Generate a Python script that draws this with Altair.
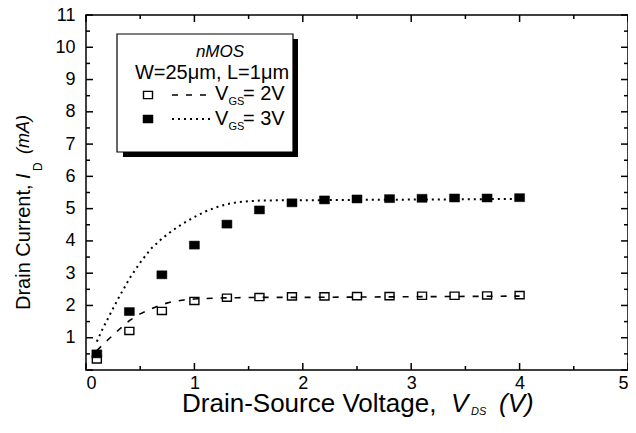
import altair as alt
import pandas as pd

# ---------------- data ----------------
vds_meas = [0.1, 0.4, 0.7, 1.0, 1.3, 1.6, 1.9, 2.2, 2.5, 2.8, 3.1, 3.4, 3.7, 4.0]
id_meas_vgs2 = [0.33, 1.21, 1.83, 2.14, 2.24, 2.26, 2.28, 2.28, 2.29, 2.29, 2.30, 2.30, 2.31, 2.32]
id_meas_vgs3 = [0.50, 1.81, 2.95, 3.87, 4.52, 4.96, 5.18, 5.27, 5.30, 5.31, 5.32, 5.33, 5.33, 5.34]

vds_fit_vgs2 = [0.1, 0.2, 0.3, 0.4, 0.5, 0.6, 0.7, 0.8, 0.9, 1.0, 1.2, 1.4, 1.6, 2.0, 2.5, 3.0, 3.5, 4.0]
id_fit_vgs2 = [0.60, 0.93, 1.24, 1.53, 1.74, 1.89, 2.03, 2.12, 2.17, 2.20, 2.23, 2.24, 2.25, 2.25, 2.26, 2.27, 2.28, 2.29]

vds_fit_vgs3 = [0.1, 0.15, 0.2, 0.25, 0.3, 0.4, 0.5, 0.6, 0.7, 0.8, 0.9, 1.0, 1.1, 1.2, 1.3, 1.4, 1.5, 1.6, 1.8, 2.0, 2.5, 3.0, 3.5, 4.0]
id_fit_vgs3 = [0.88, 1.25, 1.58, 1.91, 2.23, 2.83, 3.33, 3.76, 4.07, 4.33, 4.55, 4.74, 4.91, 5.04, 5.14, 5.20, 5.23, 5.25, 5.26, 5.26, 5.27, 5.28, 5.29, 5.30]

x_labels = [0, 1, 2, 3, 4, 5]
y_labels = [1, 2, 3, 4, 5, 6, 7, 8, 9, 10, 11]
x_major = [0, 1, 2, 3, 4, 5]
x_minor = [0.5, 1.5, 2.5, 3.5, 4.5]
y_major = [0, 1, 2, 3, 4, 5, 6, 7, 8, 9, 10, 11]
y_minor = [0.5, 1.5, 2.5, 3.5, 4.5, 5.5, 6.5, 7.5, 8.5, 9.5, 10.5]

# ---------------- layout ----------------
W, H = 542, 355
FONT = "Liberation Sans"
MAJ, MIN = 7, 4

df_m2 = pd.DataFrame({"vds": vds_meas, "id": id_meas_vgs2})
df_m3 = pd.DataFrame({"vds": vds_meas, "id": id_meas_vgs3})
df_f2 = pd.DataFrame({"vds": vds_fit_vgs2, "id": id_fit_vgs2})
df_f3 = pd.DataFrame({"vds": vds_fit_vgs3, "id": id_fit_vgs3})
one = pd.DataFrame({"k": [0]})

xs = alt.Scale(domain=[0, 5], nice=False, zero=False)
ys = alt.Scale(domain=[0, 11], nice=False, zero=False)

RECT = "M-1,-0.8H1V0.8H-1Z"

label_x = alt.Axis(orient="bottom", values=x_labels, ticks=False, tickSize=0,
                   domain=False, grid=False, title=None, labelFont=FONT,
                   labelFontSize=18, labelColor="black", labelPadding=4, format="d")
label_y = alt.Axis(orient="left", values=y_labels, ticks=False, tickSize=0,
                   domain=False, grid=False, title=None, labelFont=FONT,
                   labelFontSize=18, labelColor="black", labelPadding=11, format="d")

dashed = alt.Chart(df_f2).mark_line(stroke="black", strokeWidth=1.6, strokeDash=[6, 8]).encode(
    x=alt.X("vds:Q", scale=xs, axis=None),
    y=alt.Y("id:Q", scale=ys, axis=None),
)
dotted = alt.Chart(df_f3).mark_line(stroke="black", strokeWidth=2, strokeDash=[2, 4]).encode(
    x=alt.X("vds:Q", scale=xs, axis=None),
    y=alt.Y("id:Q", scale=ys, axis=None),
)
open_sq = alt.Chart(df_m2).mark_point(shape=RECT, size=81, filled=True, fill="white",
                                       stroke="black", strokeWidth=1.4, opacity=1).encode(
    x=alt.X("vds:Q", scale=xs, axis=label_x),
    y=alt.Y("id:Q", scale=ys, axis=label_y),
)
filled_sq = alt.Chart(df_m3).mark_point(shape=RECT, size=100, filled=True, fill="black",
                                         stroke="black", strokeWidth=0.5, opacity=1).encode(
    x=alt.X("vds:Q", scale=xs, axis=None),
    y=alt.Y("id:Q", scale=ys, axis=None),
)


# inward-pointing ticks on all four sides, positioned through the scales
def xticks(values, length):
    d = pd.DataFrame({"v": values})
    bottom = alt.Chart(d).mark_rule(stroke="black", strokeWidth=1.5).encode(
        x=alt.X("v:Q", scale=xs, axis=None), y=alt.value(H), y2=alt.value(H - length))
    top = alt.Chart(d).mark_rule(stroke="black", strokeWidth=1.5).encode(
        x=alt.X("v:Q", scale=xs, axis=None), y=alt.value(0), y2=alt.value(length))
    return [bottom, top]


def yticks(values, length):
    d = pd.DataFrame({"v": values})
    left = alt.Chart(d).mark_rule(stroke="black", strokeWidth=1.5).encode(
        y=alt.Y("v:Q", scale=ys, axis=None), x=alt.value(0), x2=alt.value(length))
    right = alt.Chart(d).mark_rule(stroke="black", strokeWidth=1.5).encode(
        y=alt.Y("v:Q", scale=ys, axis=None), x=alt.value(W), x2=alt.value(W - length))
    return [left, right]


tick_layers = xticks(x_major, MAJ) + xticks(x_minor, MIN) + yticks(y_major, MAJ) + yticks(y_minor, MIN)


def txt(text, x, y, size, align="left", baseline="alphabetic", style="normal", angle=0):
    return alt.Chart(one).mark_text(text=text, font=FONT, fontSize=size,
                                    align=align, baseline=baseline, fontStyle=style,
                                    angle=angle, color="black").encode(x=alt.value(x), y=alt.value(y))


# legend box
shadow = alt.Chart(one).mark_rect(fill="black").encode(
    x=alt.value(37), x2=alt.value(212), y=alt.value(24), y2=alt.value(142))
box = alt.Chart(one).mark_rect(fill="white", stroke="black", strokeWidth=1.2).encode(
    x=alt.value(31), x2=alt.value(207), y=alt.value(19), y2=alt.value(137))
leg_open = alt.Chart(one).mark_point(shape=RECT, size=81, filled=True, fill="white",
                                      stroke="black", strokeWidth=1.4, opacity=1).encode(
    x=alt.value(62), y=alt.value(80))
leg_filled = alt.Chart(one).mark_point(shape=RECT, size=100, filled=True, fill="black",
                                        stroke="black", strokeWidth=0.5, opacity=1).encode(
    x=alt.value(62), y=alt.value(104))
leg_dash = alt.Chart(one).mark_rule(stroke="black", strokeWidth=1.6, strokeDash=[6, 8]).encode(
    x=alt.value(86), x2=alt.value(124), y=alt.value(80))
leg_dot = alt.Chart(one).mark_rule(stroke="black", strokeWidth=2, strokeDash=[2, 4]).encode(
    x=alt.value(86), x2=alt.value(126), y=alt.value(104))

texts = [
    txt("nMOS", 134, 42, 17, align="center", style="italic"),
    txt("W=25\u03bcm, L=1\u03bcm", 126, 64, 20, align="center"),
    txt("V", 129, 85, 20),
    txt("GS", 142.5, 90, 11),
    txt("= 2V", 157, 85, 20),
    txt("V", 129, 110, 20),
    txt("GS", 142.5, 115, 11),
    txt("= 3V", 157, 110, 20),
    # x-axis title
    txt("Drain-Source Voltage,", 96, 397, 26),
    txt("V", 365, 397, 26, style="italic"),
    txt("DS", 385, 400, 11, style="italic"),
    txt("(V)", 413, 397, 26, style="italic"),
    # y-axis title
    txt("Drain Current,", -62, 295, 20, baseline="middle", angle=270),
    txt("I", -62, 164, 20, baseline="middle", style="italic", angle=270),
    txt("D", -48, 156, 12, baseline="middle", angle=270),
    txt("(mA)", -62, 139, 18, baseline="middle", style="italic", angle=270),
]

chart = alt.layer(
    open_sq, *tick_layers, dashed, dotted, filled_sq,
    shadow, box, leg_dash, leg_dot, leg_open, leg_filled, *texts
).resolve_axis(x="independent", y="independent").properties(
    width=W, height=H,
    autosize=alt.AutoSizeParams(type="none"),
    padding={"left": 78, "top": 7, "right": 0, "bottom": 49},
).configure_view(stroke="black", strokeWidth=1.5)

chart.save("out.html", embed_options={"renderer": "svg", "actions": False})
